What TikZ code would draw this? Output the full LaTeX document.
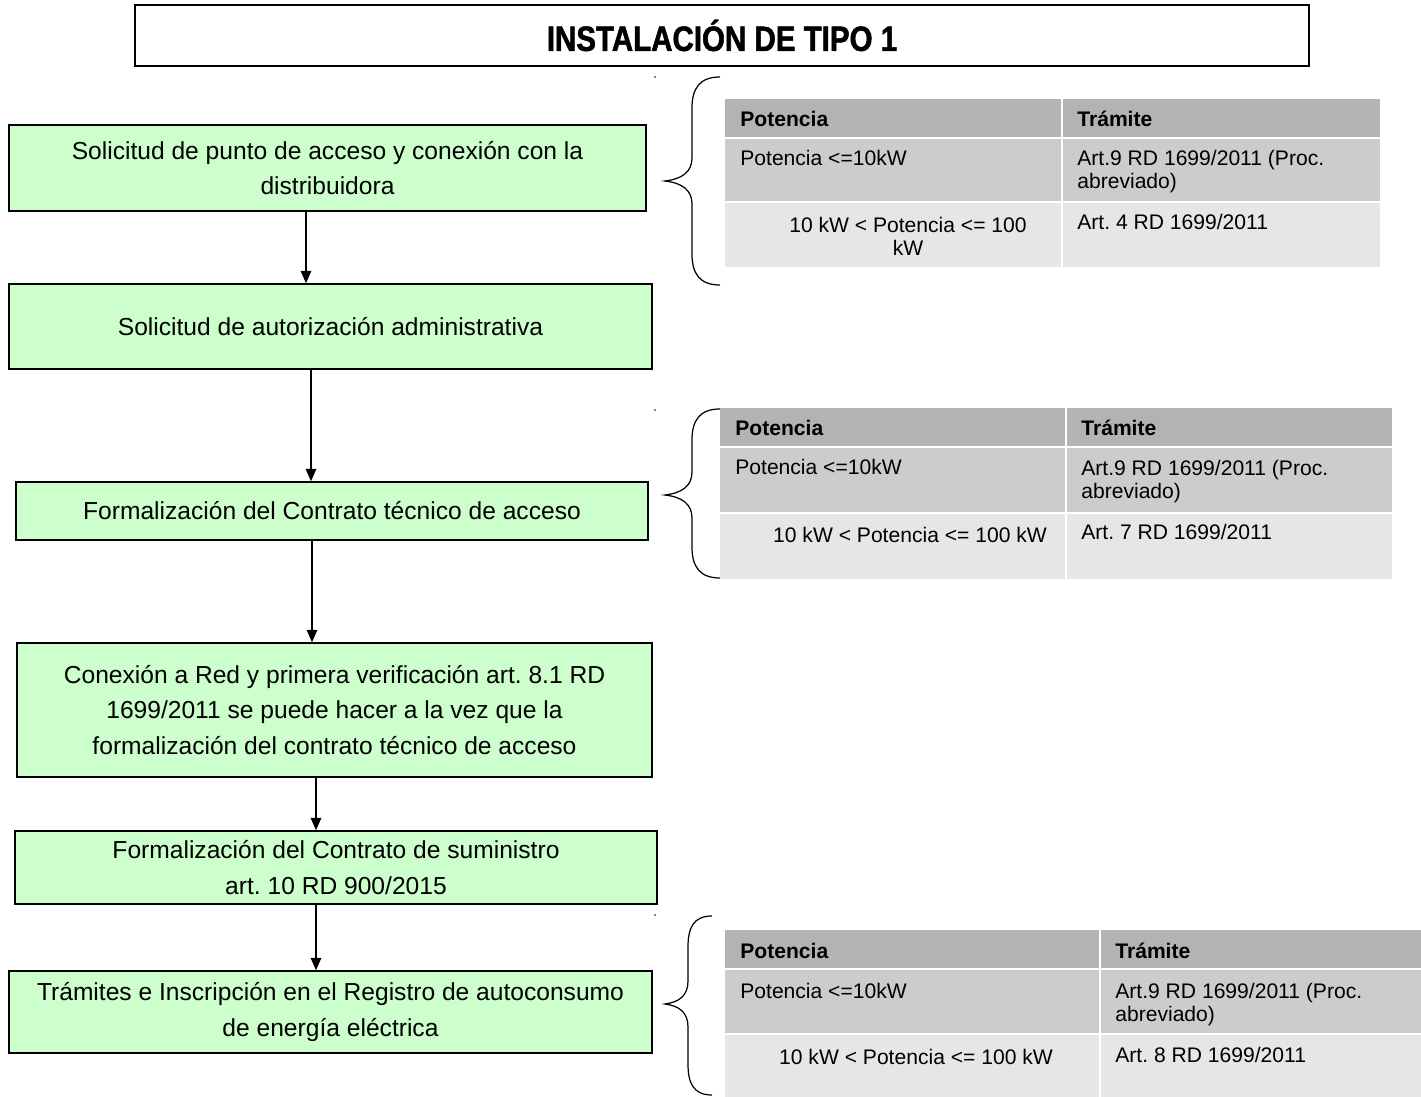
\documentclass[tikz,border=0pt]{standalone}
\usepackage{fontspec}
\setmainfont{Liberation Sans}
\newfontfamily\titulofont[FakeStretch=0.84,FakeBold=1.5]{Liberation Sans}
\usepackage{tikz}
\usetikzlibrary{calc,arrows.meta}
\definecolor{verde}{HTML}{CCFFCC}
\definecolor{gris1}{HTML}{B3B3B3}
\definecolor{gris2}{HTML}{CCCCCC}
\definecolor{gris3}{HTML}{E6E6E6}
\frenchspacing

\begin{document}
\begin{tikzpicture}[x=0.02cm, y=-0.02cm, % 1単位 = 1ピクセル
  paso/.style={draw, fill=verde, line width=0.9pt, align=center, font=\fontsize{14}{20}\selectfont},
  flecha/.style={-{Triangle[length=7pt,width=6pt]}, line width=0.6pt},
  celda/.style={anchor=north west, inner sep=0pt, align=left, font=\fontsize{12}{13}\selectfont},
  cabeza/.style={celda, font=\bfseries\fontsize{12}{13}\selectfont},
  llave/.style={line width=0.7pt}]
  \fill[white] (0,0) rectangle (1421,1097); % 背景
  \useasboundingbox (0,0) rectangle (1421,1097);

  \node[draw, line width=0.8pt, minimum width=23.48cm, minimum height=1.22cm,
    font=\titulofont\bfseries\fontsize{20}{22}\selectfont] (titulo) at (722,35.5) {INSTALACIÓN DE TIPO 1}; % タイトル

  % 左側の手順
  \node[paso, minimum width=12.74cm, minimum height=1.72cm] (b1) at (327.5,168) {Solicitud de punto de acceso y conexión con la\\distribuidora};
  \node[paso, minimum width=12.86cm, minimum height=1.70cm] (b2) at (330.5,326.5) {Solicitud de autorización administrativa};
  \node[paso, minimum width=12.64cm, minimum height=1.16cm] (b3) at (332,511) {Formalización del Contrato técnico de acceso};
  \node[paso, minimum width=12.70cm, minimum height=2.68cm] (b4) at (334.5,710) {Conexión a Red y primera verificación art. 8.1 RD\\1699/2011 se puede hacer a la vez que la\\formalización del contrato técnico de acceso};
  \node[paso, minimum width=12.84cm, minimum height=1.46cm] (b5) at (336,867.5) {Formalización del Contrato de suministro\\art. 10 RD 900/2015};
  \node[paso, minimum width=12.86cm, minimum height=1.64cm] (b6) at (330.5,1012) {Trámites e Inscripción en el Registro de autoconsumo\\de energía eléctrica};

  % 矢印
  \draw[flecha] ($(b1.south)+(-21.5,0)$) -- ($(b2.north)+(-24.5,0)$);
  \draw[flecha] ($(b2.south)+(-19.5,0)$) -- ($(b3.north)+(-21,0)$);
  \draw[flecha] ($(b3.south)+(-20,0)$) -- ($(b4.north)+(-22.5,0)$);
  \draw[flecha] ($(b4.south)+(-18.5,0)$) -- ($(b5.north)+(-20,0)$);
  \draw[flecha] ($(b5.south)+(-20,0)$) -- ($(b6.north)+(-14.5,0)$);

  % 中括弧
  \draw[llave] (720,77) .. controls (700,77) and (692,88) .. (692,108) -- (692,158) .. controls (692,172) and (682,179) .. (665,181) .. controls (682,183) and (692,190) .. (692,204) -- (692,254) .. controls (692,274) and (700,285) .. (720,285);
  \draw[llave] (720,409) .. controls (700,409) and (692,420) .. (692,440) -- (692,472) .. controls (692,486) and (682,493) .. (665,495) .. controls (682,497) and (692,504) .. (692,518) -- (692,547) .. controls (692,567) and (700,578) .. (720,578);
  \draw[llave] (712,916) .. controls (694,916) and (688,927) .. (688,947) -- (688,981) .. controls (688,995) and (680,1002) .. (665,1004) .. controls (680,1006) and (688,1013) .. (688,1027) -- (688,1064) .. controls (688,1084) and (694,1095) .. (712,1095);
  \fill (655,77) circle (0.8); % 小さい点
  \fill (655,410) circle (0.8);
  \fill (655,915) circle (0.8);

  % 表1
  \fill[gris1] (725,99) rectangle (1380,138);
  \fill[gris2] (725,138) rectangle (1380,202);
  \fill[gris3] (725,202) rectangle (1380,267);
  \draw[white, line width=1pt] (725,138) -- (1380,138) (725,202) -- (1380,202) (1062,99) -- (1062,267); % 区切り線
  \node[cabeza] (t1p) at (740,111) {Potencia};
  \node[cabeza] (t1t) at (1077,111) {Trámite};
  \node[celda] (t1a) at (740,150) {Potencia <=10kW};
  \node[celda] (t1b) at (1077,150) {Art.9 RD 1699/2011 (Proc.\\abreviado)};
  \node[celda, anchor=north, align=center] (t1c) at (908,217) {10 kW < Potencia <= 100\\kW};
  \node[celda] (t1d) at (1077,214) {Art. 4 RD 1699/2011};

  % 表2
  \fill[gris1] (720,408) rectangle (1392,447);
  \fill[gris2] (720,447) rectangle (1392,513);
  \fill[gris3] (720,513) rectangle (1392,579);
  \draw[white, line width=1pt] (720,447) -- (1392,447) (720,513) -- (1392,513) (1066,408) -- (1066,579);
  \node[cabeza] (t2p) at (735,420) {Potencia};
  \node[cabeza] (t2t) at (1081,420) {Trámite};
  \node[celda] (t2a) at (735,459) {Potencia <=10kW};
  \node[celda] (t2b) at (1081,460) {Art.9 RD 1699/2011 (Proc.\\abreviado)};
  \node[celda, anchor=north, align=center] (t2c) at (910,527) {10 kW < Potencia <= 100 kW};
  \node[celda] (t2d) at (1081,524) {Art. 7 RD 1699/2011};

  % 表3
  \fill[gris1] (725,930) rectangle (1421,969);
  \fill[gris2] (725,969) rectangle (1421,1034);
  \fill[gris3] (725,1034) rectangle (1421,1097);
  \draw[white, line width=1pt] (725,969) -- (1421,969) (725,1034) -- (1421,1034) (1100,930) -- (1100,1097);
  \node[cabeza] (t3p) at (740,943) {Potencia};
  \node[cabeza] (t3t) at (1115,943) {Trámite};
  \node[celda] (t3a) at (740,983) {Potencia <=10kW};
  \node[celda] (t3b) at (1115,983) {Art.9 RD 1699/2011 (Proc.\\abreviado)};
  \node[celda, anchor=north, align=center] (t3c) at (916,1049) {10 kW < Potencia <= 100 kW};
  \node[celda] (t3d) at (1115,1047) {Art. 8 RD 1699/2011};
\end{tikzpicture}
\end{document}
